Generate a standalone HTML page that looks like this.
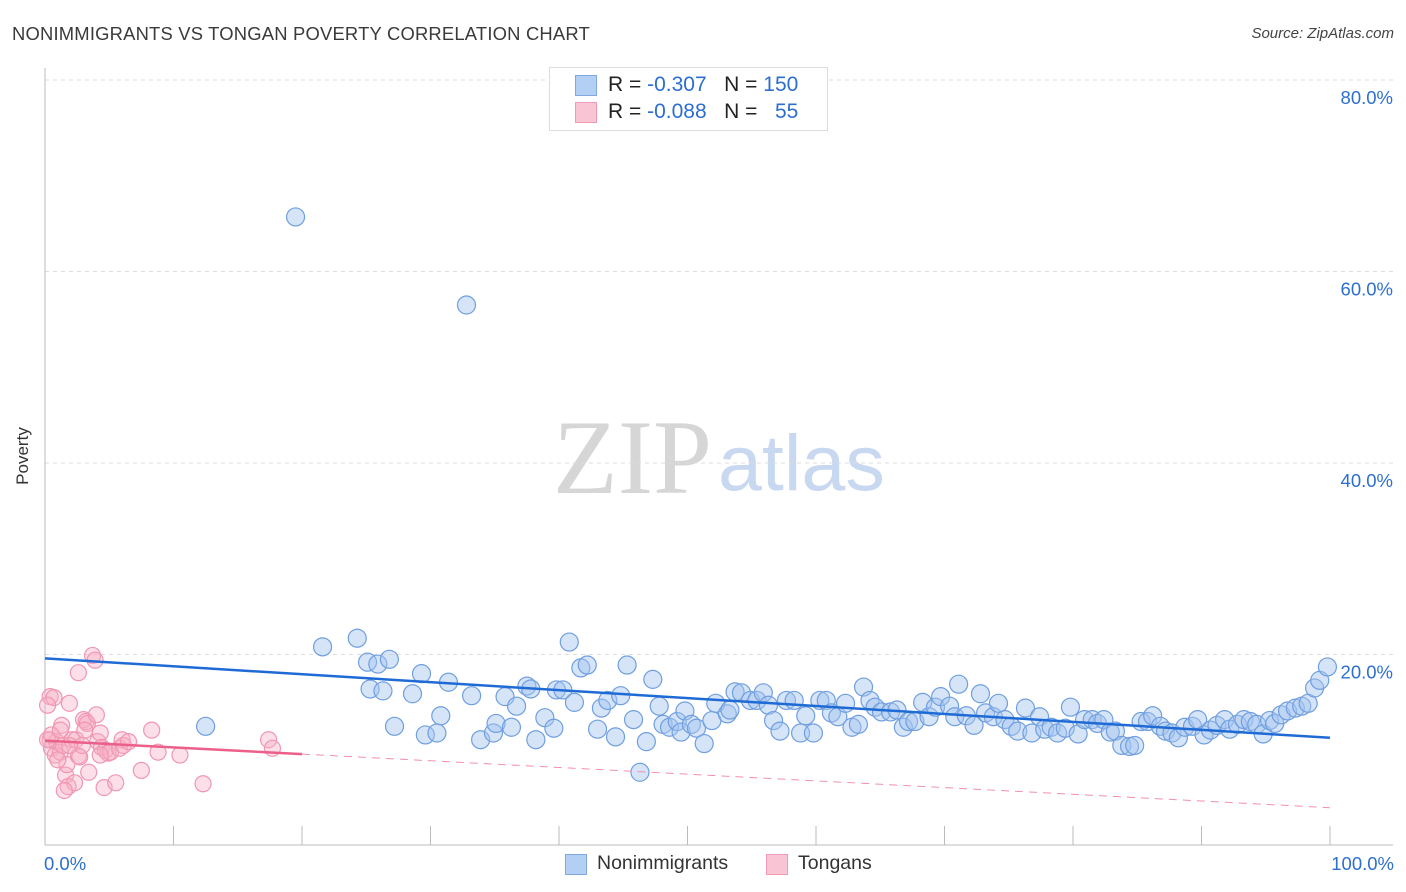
<!DOCTYPE html>
<html><head><meta charset="utf-8">
<style>
body{margin:0;background:#fff;font-family:"Liberation Sans",sans-serif;}
#wrap{position:relative;width:1406px;height:892px;overflow:hidden;}
.t{position:absolute;white-space:nowrap;}
</style></head>
<body>
<div id="wrap">
<div class="t" style="left:12px;top:23px;font-size:18.4px;color:#3a3a3a;letter-spacing:0.2px;">NONIMMIGRANTS VS TONGAN POVERTY CORRELATION CHART</div>
<div class="t" style="right:12px;top:25px;font-size:15px;color:#444;font-style:italic;">Source: ZipAtlas.com</div>
<svg id="svg" width="1406" height="892" style="position:absolute;left:0;top:0">
<text x="553" y="493" font-family="Liberation Serif,serif" font-size="106" fill="#d6d6d6">ZIP</text>
<text x="718" y="490" font-family="Liberation Sans,sans-serif" font-size="79" fill="#c7d8f0">atlas</text>
<g id="grid"></g><g id="axes"></g><g id="pts"></g><g id="trend"></g>
<text x="28" y="456" transform="rotate(-90 28 456)" text-anchor="middle" font-size="17" fill="#333">Poverty</text>
</svg>
<div style="position:absolute;left:549px;top:67px;width:277px;height:62px;border:1px solid #ddd;background:#fff;"></div>
<div style="position:absolute;left:575px;top:75px;width:20px;height:19px;background:#b3cff3;border:1px solid #7fa8e0;"></div>
<div style="position:absolute;left:575px;top:102px;width:20px;height:19px;background:#f9c4d4;border:1px solid #f09ab4;"></div>
<div class="t" style="left:608px;top:73px;font-size:21px;color:#222;">R = <span style="color:#2d6fd1">-0.307</span>&nbsp;&nbsp;&nbsp;N = <span style="color:#2d6fd1">150</span></div>
<div class="t" style="left:608px;top:100px;font-size:21px;color:#222;">R = <span style="color:#2d6fd1">-0.088</span>&nbsp;&nbsp;&nbsp;N = &nbsp;&nbsp;<span style="color:#2d6fd1">55</span></div>
<div class="t" style="left:44px;top:853px;font-size:18.5px;color:#2d6fd1;">0.0%</div>
<div class="t" style="right:12px;top:853px;font-size:18.5px;color:#2d6fd1;">100.0%</div>
<div style="position:absolute;left:565px;top:854px;width:20px;height:19px;background:#b3cff3;border:1px solid #7fa8e0;"></div>
<div class="t" style="left:597px;top:852px;font-size:19.5px;color:#333;">Nonimmigrants</div>
<div style="position:absolute;left:766px;top:854px;width:20px;height:19px;background:#f9c4d4;border:1px solid #f09ab4;"></div>
<div class="t" style="left:798px;top:852px;font-size:19.5px;color:#333;">Tongans</div>
</div>
<script>
const yTicks=[20,40,60,80];
const yTickLabels=["20.0%","40.0%","60.0%","80.0%"];
const xTicks=[0,10,20,30,40,50,60,70,80,90,100];
const blueTrend=[19.6,-0.083];
const pinkTrend=[11.0,-0.07];
const blueX=[19.5,32.8,12.5,21.6,24.3,25.1,25.3,25.9,26.3,26.8,27.2,28.6,29.3,29.6,30.5,30.8,31.4,33.2,33.9,34.9,35.1,35.8,36.3,36.7,37.5,37.8,38.2,38.9,39.6,39.8,40.3,40.8,41.2,41.7,42.2,43.0,43.3,43.8,44.4,44.8,45.3,45.8,46.3,46.8,47.3,47.8,48.1,48.6,49.2,49.5,49.8,50.3,50.7,51.3,51.9,52.2,53.1,53.3,53.7,54.2,54.9,55.4,55.9,56.3,56.7,57.2,57.7,58.3,58.8,59.2,59.8,60.3,60.8,61.2,61.7,62.3,62.8,63.3,63.7,64.2,64.6,65.1,65.8,66.3,66.8,67.2,67.7,68.3,68.8,69.3,69.7,70.4,70.8,71.1,71.7,72.3,72.8,73.2,73.8,74.2,74.7,75.2,75.7,76.3,76.8,77.4,77.8,78.3,78.8,79.4,79.8,80.4,80.9,81.5,81.9,82.4,82.9,83.3,83.8,84.4,84.8,85.3,85.8,86.2,86.8,87.2,87.7,88.2,88.7,89.3,89.7,90.2,90.7,91.2,91.8,92.2,92.8,93.3,93.8,94.3,94.8,95.3,95.7,96.2,96.7,97.3,97.8,98.3,98.8,99.2,99.8];
const blueY=[65.7,56.5,12.5,20.8,21.7,19.2,16.4,19.0,16.2,19.5,12.5,15.9,18.0,11.6,11.8,13.6,17.1,15.7,11.1,11.8,12.8,15.6,12.4,14.6,16.7,16.4,11.1,13.4,12.3,16.3,16.3,21.3,15.0,18.6,18.9,12.2,14.4,15.2,11.4,15.7,18.9,13.2,7.7,10.9,17.4,14.6,12.7,12.4,13.0,11.9,14.1,12.7,12.3,10.7,13.1,14.9,13.8,14.2,16.1,16.0,15.2,15.2,16.0,14.7,13.1,12.0,15.2,15.2,11.8,13.6,11.8,15.2,15.2,13.9,13.5,14.9,12.4,12.7,16.6,15.2,14.5,14.0,14.0,14.2,12.4,13.0,13.0,15.0,13.5,14.5,15.6,14.6,13.5,16.9,13.6,12.6,15.9,13.9,13.5,14.9,13.2,12.5,12.0,14.4,11.8,13.5,12.2,12.4,11.8,12.3,14.5,11.7,13.2,13.2,12.8,13.2,11.9,12.0,10.5,10.4,10.5,13.0,13.0,13.6,12.5,12.0,11.8,11.3,12.4,12.5,13.2,11.6,12.1,12.6,13.2,12.2,12.7,13.2,13.0,12.7,11.7,13.1,12.8,13.7,14.1,14.4,14.6,14.9,16.5,17.3,18.7];
const pinkX=[0.4,0.7,0.2,0.4,0.5,0.8,0.9,1.2,1.3,1.4,1.6,1.7,1.8,1.9,2.1,2.3,2.4,2.6,2.7,3.0,3.2,3.3,3.4,3.7,3.9,4.0,4.1,4.3,4.4,4.6,4.7,4.9,5.1,5.5,5.8,6.0,6.1,6.5,7.5,8.3,8.8,10.5,12.3,17.4,17.7,0.2,0.5,1.0,1.2,1.5,2.6,3.1,2.9,1.9,4.3];
const pinkY=[15.6,15.5,14.7,11.1,10.2,9.5,10.9,9.8,12.6,10.5,7.4,8.5,6.2,14.9,11.1,6.6,11.1,9.4,9.3,13.2,13.0,12.8,7.7,19.9,19.4,13.7,10.9,11.8,10.3,6.1,10.0,9.7,9.8,6.6,10.2,11.1,10.5,10.9,7.9,12.1,9.8,9.5,6.5,11.1,10.2,11.1,11.6,9.0,12.1,5.8,18.1,12.1,10.5,10.5,9.5];

const NS="http://www.w3.org/2000/svg";
const X0=45,X1=1330,Y0=846,PY=9.575;
function sx(v){return X0+(X1-X0)*v/100;}
function sy(v){return Y0-v*PY;}
function mk(tag,attrs,parent){const e=document.createElementNS(NS,tag);for(const k in attrs)e.setAttribute(k,attrs[k]);parent.appendChild(e);return e;}
const grid=document.getElementById('grid'),axes=document.getElementById('axes'),pts=document.getElementById('pts'),trend=document.getElementById('trend');
yTicks.forEach((v,i)=>{
  const l=mk('line',{x1:45,x2:1393,y1:sy(v),y2:sy(v),stroke:'#dcdcdc','stroke-dasharray':'4,4','stroke-width':1},grid);
  
  
  const t=mk('text',{x:1393,y:sy(v)+24,'text-anchor':'end','font-size':18.5,fill:'#2d6fd1','font-family':'Liberation Sans,sans-serif'},grid);
  t.textContent=yTickLabels[i];
  
  
});
let a=mk('line',{x1:45,x2:45,y1:68,y2:845,stroke:'#bbb'},axes);


a=mk('line',{x1:45,x2:1393,y1:845,y2:845,stroke:'#bbb'},axes);


xTicks.forEach(v=>{
  const l=mk('line',{x1:sx(v),x2:sx(v),y1:826,y2:845,stroke:'#bbb'},axes);
  
  
});
pinkX.forEach((v,i)=>{
  const c=mk('circle',{cx:sx(v),cy:sy(pinkY[i]),r:8,fill:'rgba(248,175,198,0.4)',stroke:'#f097b3','stroke-width':1.2},pts);
  
  
});
blueX.forEach((v,i)=>{
  const c=mk('circle',{cx:sx(v),cy:sy(blueY[i]),r:9,fill:'rgba(164,196,240,0.45)',stroke:'#6f9fe0','stroke-width':1.2},pts);
  
  
});
const bf=blueTrend,pf=pinkTrend;
let l=mk('line',{x1:sx(0),y1:sy(bf[0]),x2:sx(100),y2:sy(bf[0]+bf[1]*100),stroke:'#1f6bd6','stroke-width':2.5},trend);


l=mk('line',{x1:sx(0),y1:sy(pf[0]),x2:sx(20),y2:sy(pf[0]+pf[1]*20),stroke:'#ec5f8a','stroke-width':2.5},trend);


l=mk('line',{x1:sx(20),y1:sy(pf[0]+pf[1]*20),x2:sx(100),y2:sy(pf[0]+pf[1]*100),stroke:'#f28fae','stroke-width':1,'stroke-dasharray':'8,6'},trend);


</script>
</body></html>
